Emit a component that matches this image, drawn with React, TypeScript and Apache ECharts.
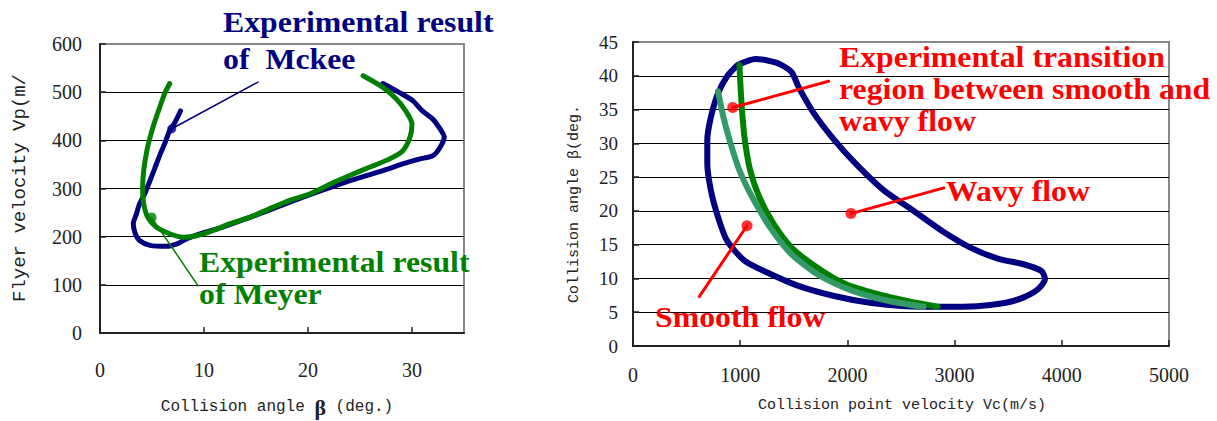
import React, { useEffect, useRef } from "react";
import * as echarts from "echarts";

// ---- Left chart: flyer velocity vs collision angle ----
const leftXRange = [0, 35];
const leftYRange = [0, 600];
const mckeeCurve: number[][] = [
  [7.74, 461], [7.2, 437], [6.7, 420], [6.2, 392], [5.8, 372], [5.3, 344], [4.8, 316],
  [4.3, 289], [3.8, 268], [3.5, 247], [3.2, 227], [3.4, 206], [3.8, 192], [4.8, 182],
  [6.4, 180], [7.4, 185], [8.3, 195], [9.6, 206], [11.8, 220], [14.4, 240], [17.0, 261],
  [19.5, 282], [22.1, 302], [24.6, 320], [27.2, 337], [29.1, 351], [30.7, 361], [32.0, 368],
  [32.6, 382], [33.1, 406], [32.6, 427], [32.0, 444], [31.0, 461], [30.1, 482], [28.8, 499],
  [27.2, 518],
];
const meyerCurve: number[][] = [
  [6.7, 518], [6.2, 496], [5.8, 472], [5.3, 441], [4.9, 413], [4.5, 378], [4.2, 337],
  [4.1, 302], [4.2, 268], [4.6, 240], [5.4, 220], [6.7, 206], [8.0, 199], [9.3, 202],
  [10.9, 213], [12.5, 227], [14.4, 240], [16.3, 258], [18.2, 275], [20.2, 289], [22.1, 309],
  [24.0, 327], [25.9, 344], [27.8, 361], [29.1, 378], [29.8, 406], [30.0, 434], [29.4, 461],
  [28.5, 486], [27.2, 510], [25.3, 534],
];
const mckeeLeader: number[][] = [[6.9, 424], [15.2, 521]];
const meyerLeader: number[][] = [[4.96, 240], [9.43, 98]];

// ---- Right chart: collision angle vs collision point velocity ----
const rightXRange = [0, 5000];
const rightYRange = [0, 45];
const wavyBoundary: number[][] = [
  [977, 41.6], [1143, 42.5], [1343, 41.9], [1477, 40.6], [1543, 38.4], [1677, 34.7],
  [1877, 30.5], [2077, 27.0], [2343, 23.0], [2610, 20.1], [2877, 17.1], [3143, 14.6],
  [3410, 12.9], [3643, 12.1], [3810, 11.1], [3843, 9.9], [3777, 8.4], [3643, 7.2],
  [3477, 6.4], [3210, 5.9], [2877, 5.8], [2543, 5.9], [2210, 6.4], [1877, 7.4], [1543, 8.9],
  [1277, 10.7], [1043, 12.6], [877, 15.6], [793, 19.1], [727, 23.0], [693, 27.0], [693, 30.5],
  [727, 33.9], [793, 37.4], [877, 39.9], [977, 41.6],
];
const transitionCurve: number[][] = [
  [993, 41.6], [1003, 38.4], [1017, 34.9], [1043, 30.5], [1093, 26.0], [1177, 22.1],
  [1310, 18.1], [1477, 14.6], [1710, 11.7], [1977, 9.2], [2277, 7.7], [2577, 6.6], [2843, 5.8],
];
const smoothCurve: number[][] = [
  [793, 37.7], [843, 33.9], [910, 30.0], [993, 26.0], [1110, 22.1], [1277, 17.6],
  [1477, 13.6], [1743, 10.4], [2043, 8.2], [2377, 6.7], [2710, 5.8],
];
const transitionLeader: number[][] = [[930, 35.3], [1825, 39.2]];
const wavyLeader: number[][] = [[2033, 19.6], [2900, 23.4]];
const smoothLeader: number[][] = [[1063, 17.8], [618, 7.3]];

const NAVY = "#000080";
const GREEN = "#008000";
const TEAL = "#339966";
const RED = "#ff0000";
const SERIF = "'Liberation Serif', 'Times New Roman', 'DejaVu Serif', serif";
const MONO = "'Liberation Mono', 'Courier New', monospace";

function curve(data: number[][], idx: number, color: string, width: number, z = 3) {
  return {
    type: "line",
    xAxisIndex: idx,
    yAxisIndex: idx,
    data,
    symbol: "none",
    smooth: 0.25,
    z,
    lineStyle: { color, width, cap: "round", join: "round" },
  };
}
function dots(data: number[][], idx: number, color: string, size: number) {
  return {
    type: "scatter",
    xAxisIndex: idx,
    yAxisIndex: idx,
    data,
    symbol: "circle",
    symbolSize: size,
    z: 6,
    itemStyle: { color },
  };
}

function valueAxis(range: number[], interval: number, gridIndex: number, isY: boolean, labelSize: number, margin: number) {
  return {
    type: "value",
    gridIndex,
    min: range[0],
    max: range[1],
    interval,
    axisLine: { show: true, onZero: false, lineStyle: { color: "#222", width: 2 } },
    axisTick: { show: true, inside: true, length: 6, lineStyle: { color: "#222", width: 1.5 } },
    axisLabel: {
      show: true,
      showMaxLabel: isY ? true : range[1] % interval === 0,
      margin,
      color: "#222",
      fontFamily: SERIF,
      fontSize: labelSize,
      formatter: (v: number) => String(v),
    },
    splitLine: isY
      ? { show: true, showMinLine: false, showMaxLine: false, lineStyle: { color: "#000", width: 1 } }
      : { show: false },
  };
}

function label(text: string, x: number, y: number, fill: string) {
  return {
    type: "text",
    x,
    y,
    z: 20,
    scaleX: 1.06,
    style: {
      text,
      fill,
      fontFamily: SERIF,
      fontWeight: "bold",
      fontSize: 30,
      lineHeight: 30,
      align: "left",
      verticalAlign: "middle",
    },
  };
}

export default function App() {
  const ref = useRef<HTMLDivElement>(null);
  useEffect(() => {
    if (!ref.current) return;
    const chart = echarts.init(ref.current, undefined, { renderer: "svg" });
    chart.setOption({
      animation: false,
      backgroundColor: "#fff",
      grid: [
        { left: 100, top: 44, width: 364, height: 289, show: true, borderColor: "#888", borderWidth: 2, backgroundColor: "transparent" },
        { left: 633, top: 42, width: 536, height: 304, show: true, borderColor: "#888", borderWidth: 2, backgroundColor: "transparent" },
      ],
      xAxis: [
        valueAxis(leftXRange, 10, 0, false, 20, 27),
        valueAxis(rightXRange, 1000, 1, false, 20, 19),
      ],
      yAxis: [
        valueAxis(leftYRange, 100, 0, true, 20, 18),
        valueAxis(rightYRange, 5, 1, true, 19, 15),
      ],
      series: [
        curve(mckeeCurve, 0, NAVY, 5, 3),
        curve(meyerCurve, 0, GREEN, 5, 4),
        curve(mckeeLeader, 0, NAVY, 1.5, 5),
        curve(meyerLeader, 0, GREEN, 1.5, 5),
        dots([mckeeLeader[0]], 0, NAVY, 9),
        dots([meyerLeader[0]], 0, GREEN, 10),
        curve(wavyBoundary, 1, NAVY, 6, 3),
        curve(transitionCurve, 1, GREEN, 6, 4),
        curve(smoothCurve, 1, TEAL, 6, 4),
        curve(transitionLeader, 1, RED, 3, 5),
        curve(wavyLeader, 1, RED, 3, 5),
        curve(smoothLeader, 1, RED, 3, 5),
        dots([transitionLeader[0], wavyLeader[0], smoothLeader[0]], 1, RED, 11),
      ],
      graphic: [
        label("Experimental result", 223, 22, NAVY),
        label("of\u00a0 Mckee", 223, 59, NAVY),
        label("Experimental result", 199, 262, GREEN),
        label("of Meyer", 199, 294, GREEN),
        label("Experimental transition", 839, 57, RED),
        label("region between smooth and", 839, 89, RED),
        label("wavy flow", 839, 121, RED),
        label("Wavy flow", 946, 191, RED),
        label("Smooth flow", 655, 317, RED),
        {
          type: "text",
          x: 20,
          y: 188,
          rotation: Math.PI / 2,
          style: { text: "Flyer velocity Vp(m/", fill: "#222", fontFamily: MONO, fontSize: 19, align: "center", verticalAlign: "middle" },
        },
        {
          type: "text",
          x: 574,
          y: 204,
          rotation: Math.PI / 2,
          style: { text: "Collision angle β(deg.", fill: "#222", fontFamily: MONO, fontSize: 15, align: "center", verticalAlign: "middle" },
        },
        {
          type: "text",
          x: 277,
          y: 407,
          style: {
            text: "Collision angle {b|β} (deg.)",
            fill: "#222",
            fontFamily: MONO,
            fontSize: 16,
            align: "center",
            verticalAlign: "middle",
            rich: { b: { fontFamily: SERIF, fontWeight: "bold", fontSize: 22, fill: "#222" } },
          },
        },
        {
          type: "text",
          x: 902,
          y: 405,
          style: { text: "Collision point velocity Vc(m/s)", fill: "#222", fontFamily: MONO, fontSize: 15, align: "center", verticalAlign: "middle" },
        },
      ],
    });
    return () => chart.dispose();
  }, []);
  return (
    <div
      ref={ref}
      style={{ position: "fixed", left: 0, top: 0, width: 1217, height: 421, background: "#fff" }}
    />
  );
}
